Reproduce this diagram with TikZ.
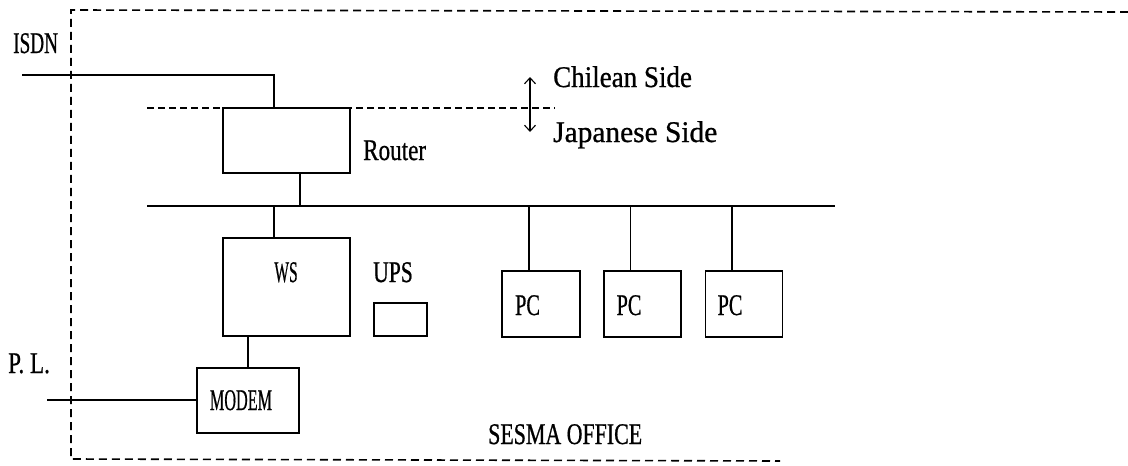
\documentclass[tikz,border=0pt]{standalone}
\usepackage{fontspec}
\setmainfont{Liberation Serif}
\newfontfamily\lblfont[FakeBold=0.8]{Liberation Serif}
\usetikzlibrary{arrows.meta}
\tikzset{
  box/.style={draw, line width=1.3pt, minimum width=#1, inner sep=0pt},
  lbl/.style={inner sep=0pt, font=\lblfont\fontsize{30}{33}\selectfont},
  wire/.style={line width=1.3pt},
  outer/.style={line width=1.6pt, dash pattern=on 8pt off 5pt},
  sep/.style={line width=1.2pt, dash pattern=on 7pt off 4pt},
}
\begin{document}
\begin{tikzpicture}[x=1pt,y=-1pt]
\useasboundingbox (0,0) rectangle (1128,466);
% outer boundary
\coordinate (oTR) at (1128,12);
\coordinate (oTL) at (71,10);
\coordinate (oBL) at (71,459);
\coordinate (oBR) at (780,461);
\draw[outer] (oTR) -- (oTL) -- (oBL) -- (oBR);
% separation line
\coordinate (sepL) at (147,108);
\coordinate (sepR) at (555,108);
\draw[sep] (sepL) -- (sepR);
% boxes
\node[box=127pt, minimum height=65pt, fill=white] (router) at (286.5,140.5) {};
\node[box=127pt, minimum height=98pt] (ws) at (286.5,287) {};
\node[box=53pt, minimum height=33pt] (ups) at (400.5,319.5) {};
\node[box=102pt, minimum height=65pt] (modem) at (248,400.5) {};
\node[box=78pt, minimum height=66pt] (pc1) at (541,304) {};
\node[box=77pt, minimum height=66pt] (pc2) at (642.5,304) {};
\node[box=77pt, minimum height=66pt] (pc3) at (744,304) {};
% bus
\coordinate (busL) at (147,206);
\coordinate (busR) at (835,206);
\draw[wire] (busL) -- (busR);
% ISDN line
\coordinate (isdnL) at (22,75);
\draw[wire] (isdnL) -| ([xshift=-12.5pt]router.north);
% router to bus
\draw[wire] ([xshift=13.5pt]router.south) -- ([xshift=13.5pt]router.south |- busL);
% bus to WS
\draw[wire] ([xshift=-12.5pt]ws.north) -- ([xshift=-12.5pt]ws.north |- busL);
% WS to modem
\draw[wire] (modem.north) -- (modem.north |- ws.south);
% P.L. line
\coordinate (plL) at (47,400);
\draw[wire] (plL) -- (plL -| modem.west);
% bus to PCs
\foreach \p in {pc1,pc2,pc3}
  \draw[wire] ([xshift=-12pt]\p.north) -- ([xshift=-12pt]\p.north |- busL);
% arrow
\coordinate (arrT) at (530,77);
\coordinate (arrB) at (530,132);
\draw[line width=1.1pt, {Straight Barb[length=6pt,width=11pt]}-{Straight Barb[length=6pt,width=11pt]}] (arrT) -- (arrB);
% labels
\node[lbl, anchor=base west] (isdnlbl) at (13,53) {\scalebox{0.64}[1]{ISDN}};
\node[lbl, anchor=base west] (pllbl) at (8,373) {\scalebox{0.77}[1]{P. L.}};
\node[lbl, anchor=base west] (routerlbl) at (363,160) {\scalebox{0.77}[1]{Router}};
\node[lbl, anchor=base west] (chilean) at (553,87) {\scalebox{0.9}[1]{Chilean Side}};
\node[lbl, anchor=base west] (japanese) at (553,142) {\scalebox{0.98}[1]{Japanese Side}};
\node[lbl, anchor=base] (wslbl) at (286,282) {\scalebox{0.52}[1]{WS}};
\node[lbl, anchor=base] (upslbl) at (393,282) {\scalebox{0.72}[1]{UPS}};
\node[lbl, anchor=base] (modemlbl) at (241,410) {\scalebox{0.54}[1]{MODEM}};
\node[lbl, anchor=base] (pc1lbl) at (527.5,315) {\scalebox{0.68}[1]{PC}};
\node[lbl, anchor=base] (pc2lbl) at (629,315) {\scalebox{0.68}[1]{PC}};
\node[lbl, anchor=base] (pc3lbl) at (730,315) {\scalebox{0.68}[1]{PC}};
\node[lbl, anchor=base west] (sesma) at (488,444) {\scalebox{0.73}[1]{SESMA OFFICE}};
\end{tikzpicture}
\end{document}
